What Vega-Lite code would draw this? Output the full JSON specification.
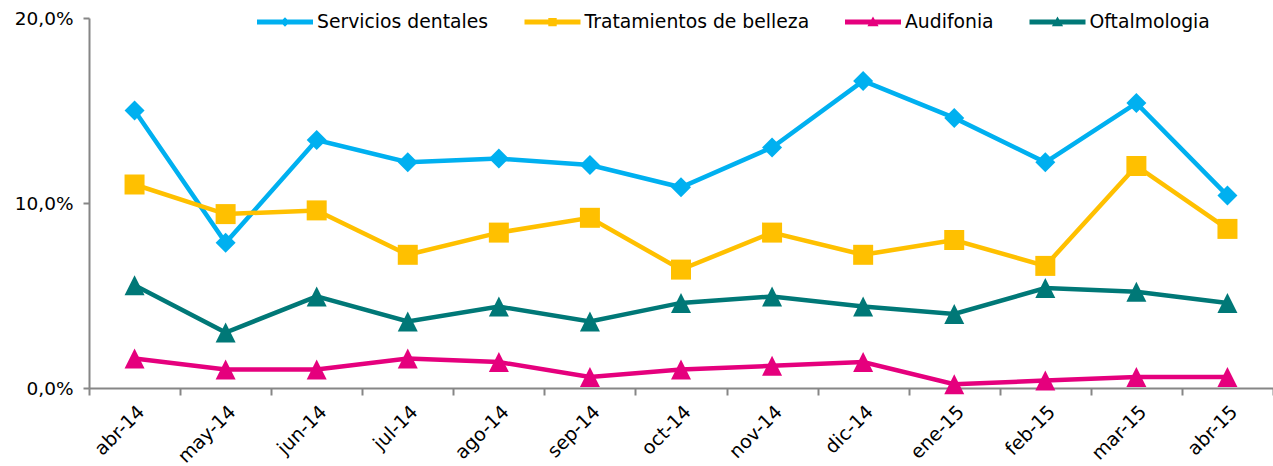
{
  "$schema": "https://vega.github.io/schema/vega-lite/v6.json",
  "width": 1184,
  "height": 370,
  "autosize": {"type": "none"},
  "padding": {"left": 89, "top": 18, "right": 0, "bottom": 78},
  "config": {
    "view": {"stroke": null},
    "font": "DejaVu Sans",
    "axis": {"labelFont": "DejaVu Sans", "labelFontSize": 18.5, "labelColor": "#000000", "domainColor": "#868686", "tickColor": "#868686", "domainWidth": 2, "tickWidth": 2, "grid": false, "title": null}
  },
  "data": {
    "values": [
      {"mes": "abr-14", "serie": "Servicios dentales", "valor": 15.0},
      {"mes": "may-14", "serie": "Servicios dentales", "valor": 7.85},
      {"mes": "jun-14", "serie": "Servicios dentales", "valor": 13.4},
      {"mes": "jul-14", "serie": "Servicios dentales", "valor": 12.2},
      {"mes": "ago-14", "serie": "Servicios dentales", "valor": 12.4},
      {"mes": "sep-14", "serie": "Servicios dentales", "valor": 12.05},
      {"mes": "oct-14", "serie": "Servicios dentales", "valor": 10.85},
      {"mes": "nov-14", "serie": "Servicios dentales", "valor": 13.0},
      {"mes": "dic-14", "serie": "Servicios dentales", "valor": 16.6},
      {"mes": "ene-15", "serie": "Servicios dentales", "valor": 14.6},
      {"mes": "feb-15", "serie": "Servicios dentales", "valor": 12.2},
      {"mes": "mar-15", "serie": "Servicios dentales", "valor": 15.4},
      {"mes": "abr-15", "serie": "Servicios dentales", "valor": 10.4},
      {"mes": "abr-14", "serie": "Tratamientos de belleza", "valor": 11.0},
      {"mes": "may-14", "serie": "Tratamientos de belleza", "valor": 9.4},
      {"mes": "jun-14", "serie": "Tratamientos de belleza", "valor": 9.6},
      {"mes": "jul-14", "serie": "Tratamientos de belleza", "valor": 7.2},
      {"mes": "ago-14", "serie": "Tratamientos de belleza", "valor": 8.4},
      {"mes": "sep-14", "serie": "Tratamientos de belleza", "valor": 9.2},
      {"mes": "oct-14", "serie": "Tratamientos de belleza", "valor": 6.4},
      {"mes": "nov-14", "serie": "Tratamientos de belleza", "valor": 8.4},
      {"mes": "dic-14", "serie": "Tratamientos de belleza", "valor": 7.2},
      {"mes": "ene-15", "serie": "Tratamientos de belleza", "valor": 8.0},
      {"mes": "feb-15", "serie": "Tratamientos de belleza", "valor": 6.6},
      {"mes": "mar-15", "serie": "Tratamientos de belleza", "valor": 12.0},
      {"mes": "abr-15", "serie": "Tratamientos de belleza", "valor": 8.6},
      {"mes": "abr-14", "serie": "Audifonia", "valor": 1.6},
      {"mes": "may-14", "serie": "Audifonia", "valor": 1.0},
      {"mes": "jun-14", "serie": "Audifonia", "valor": 1.0},
      {"mes": "jul-14", "serie": "Audifonia", "valor": 1.6},
      {"mes": "ago-14", "serie": "Audifonia", "valor": 1.4},
      {"mes": "sep-14", "serie": "Audifonia", "valor": 0.6},
      {"mes": "oct-14", "serie": "Audifonia", "valor": 1.0},
      {"mes": "nov-14", "serie": "Audifonia", "valor": 1.2},
      {"mes": "dic-14", "serie": "Audifonia", "valor": 1.4},
      {"mes": "ene-15", "serie": "Audifonia", "valor": 0.2},
      {"mes": "feb-15", "serie": "Audifonia", "valor": 0.4},
      {"mes": "mar-15", "serie": "Audifonia", "valor": 0.6},
      {"mes": "abr-15", "serie": "Audifonia", "valor": 0.6},
      {"mes": "abr-14", "serie": "Oftalmologia", "valor": 5.55},
      {"mes": "may-14", "serie": "Oftalmologia", "valor": 3.0},
      {"mes": "jun-14", "serie": "Oftalmologia", "valor": 4.95},
      {"mes": "jul-14", "serie": "Oftalmologia", "valor": 3.6},
      {"mes": "ago-14", "serie": "Oftalmologia", "valor": 4.4},
      {"mes": "sep-14", "serie": "Oftalmologia", "valor": 3.6},
      {"mes": "oct-14", "serie": "Oftalmologia", "valor": 4.6},
      {"mes": "nov-14", "serie": "Oftalmologia", "valor": 4.95},
      {"mes": "dic-14", "serie": "Oftalmologia", "valor": 4.4},
      {"mes": "ene-15", "serie": "Oftalmologia", "valor": 4.0},
      {"mes": "feb-15", "serie": "Oftalmologia", "valor": 5.4},
      {"mes": "mar-15", "serie": "Oftalmologia", "valor": 5.2},
      {"mes": "abr-15", "serie": "Oftalmologia", "valor": 4.6}
    ]
  },
  "encoding": {
    "x": {
      "field": "mes", "type": "nominal",
      "sort": ["abr-14","may-14","jun-14","jul-14","ago-14","sep-14","oct-14","nov-14","dic-14","ene-15","feb-15","mar-15","abr-15"],
      "scale": {"paddingInner": 0, "paddingOuter": 0},
      "axis": {"labelAngle": -45, "tickBand": "extent", "tickSize": 7, "labelPadding": 7, "labelFontSize": 19}
    },
    "y": {
      "field": "valor", "type": "quantitative",
      "scale": {"domain": [0, 20], "nice": false, "zero": true},
      "axis": {"values": [0, 10, 20], "tickSize": 6, "labelPadding": 10, "labelExpr": "replace(format(datum.value, '.1f'), '.', ',') + '%'"}
    }
  },
  "layer": [
    {
      "mark": {"type": "line", "strokeWidth": 4.5},
      "encoding": {
        "color": {
          "field": "serie", "type": "nominal",
          "sort": ["Servicios dentales", "Tratamientos de belleza", "Audifonia", "Oftalmologia"],
          "scale": {"domain": ["Servicios dentales", "Tratamientos de belleza", "Audifonia", "Oftalmologia"], "range": ["#00B0F0", "#FFC000", "#E5007D", "#007877"]},
          "legend": {
            "orient": "none", "direction": "horizontal", "legendX": 168, "legendY": -24,
            "title": null, "labelFont": "DejaVu Sans", "labelFontSize": 18.8, "labelColor": "#000000", "labelLimit": 0,
            "symbolSize": 3136, "labelOffset": 4, "columnPadding": 35.5,
            "encode": {
              "symbols": {
                "update": {
                  "shape": {"signal": "datum.value == 'Servicios dentales' ? 'M-1,-0.09L1,-0.09L1,0.09L-1,0.09Z M0,-0.17L0.17,0L0,0.17L-0.17,0Z' : datum.value == 'Tratamientos de belleza' ? 'M-1,-0.09L1,-0.09L1,0.09L-1,0.09Z M-0.15,-0.15L0.15,-0.15L0.15,0.15L-0.15,0.15Z' : 'M-1,-0.09L1,-0.09L1,0.09L-1,0.09Z M0,-0.2L0.2,0.15L-0.2,0.15Z'"},
                  "fill": {"signal": "scale('color', datum.value)"},
                  "fillOpacity": {"value": 1},
                  "stroke": {"value": "transparent"},
                  "strokeWidth": {"value": 0}
                }
              }
            }
          }
        }
      }
    },
    {
      "transform": [{"filter": "datum.serie == 'Servicios dentales'"}],
      "mark": {"type": "point", "filled": true, "opacity": 1, "shape": "diamond", "size": 400},
      "encoding": {"color": {"field": "serie", "type": "nominal", "legend": null}}
    },
    {
      "transform": [{"filter": "datum.serie == 'Tratamientos de belleza'"}],
      "mark": {"type": "point", "filled": true, "opacity": 1, "shape": "square", "size": 400},
      "encoding": {"color": {"field": "serie", "type": "nominal", "legend": null}}
    },
    {
      "transform": [{"filter": "datum.serie == 'Audifonia'"}],
      "mark": {"type": "point", "filled": true, "opacity": 1, "shape": "M0,-1L1,1L-1,1Z", "size": 400},
      "encoding": {"color": {"field": "serie", "type": "nominal", "legend": null}}
    },
    {
      "transform": [{"filter": "datum.serie == 'Oftalmologia'"}],
      "mark": {"type": "point", "filled": true, "opacity": 1, "shape": "M0,-1L1,1L-1,1Z", "size": 400},
      "encoding": {"color": {"field": "serie", "type": "nominal", "legend": null}}
    }
  ]
}
